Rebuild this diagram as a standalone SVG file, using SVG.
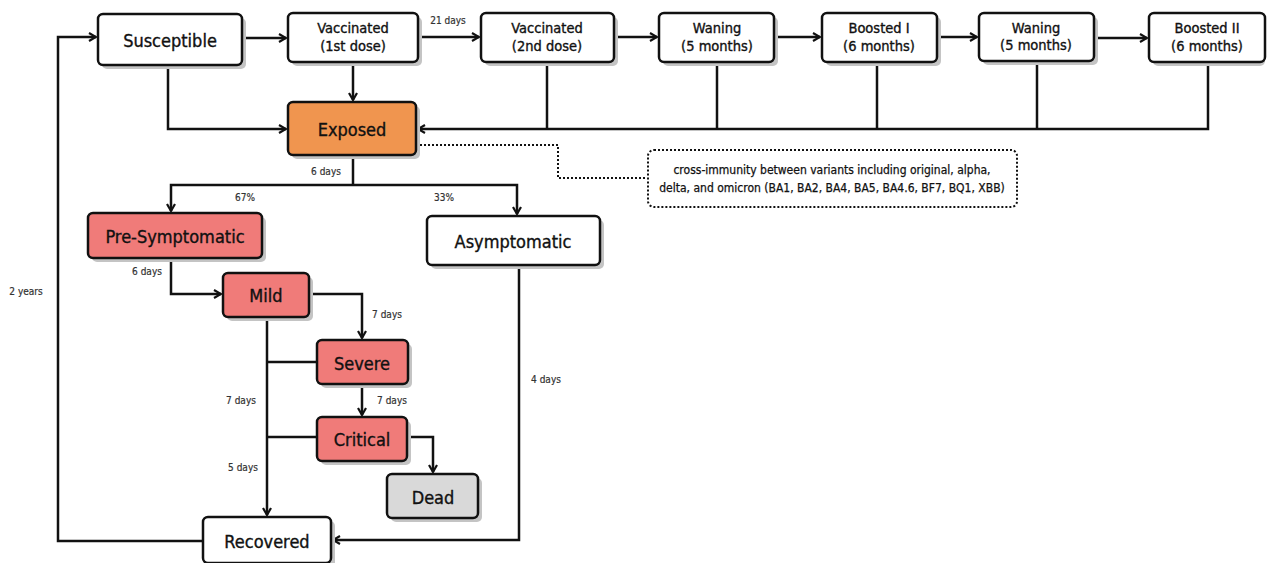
<svg xmlns="http://www.w3.org/2000/svg" width="1269" height="563" viewBox="0 0 1269 563">
<style>
  .box{stroke:#111;stroke-width:2.5;}
  .sh{fill:#c4c4c4;}
  .w{fill:#fff;}
  .o{fill:#F0954F;}
  .r{fill:#F07B79;}
  .g{fill:#D9D9D9;}
  text{font-family:"DejaVu Sans Condensed","DejaVu Sans",sans-serif;font-stretch:condensed;fill:#111;text-anchor:middle;dominant-baseline:central;stroke:#111;stroke-width:0.35;}
  .big{font-size:18px;}
  .mid{font-size:14.5px;}
  .sm{font-size:10px;fill:#333;stroke:#333;stroke-width:0.2;}
  .note{font-size:12px;stroke-width:0.25;}
  .c{fill:none;stroke:#111;stroke-width:2.5;}
  .a{marker-end:url(#arr);}
  .d{fill:none;stroke:#111;stroke-width:2;stroke-dasharray:2 2;}
</style>
<defs>
  <marker id="arr" markerWidth="10" markerHeight="10" refX="8" refY="5" orient="auto" markerUnits="userSpaceOnUse">
    <path d="M1,1 L8,5 L1,9" fill="none" stroke="#111" stroke-width="2.2"/>
  </marker>
</defs>

<g id="connectors">
  <path class="c a" d="M242,38 H286"/>
  <path class="c a" d="M418,37 H479"/>
  <path class="c a" d="M614,37 H657"/>
  <path class="c a" d="M774,37 H820"/>
  <path class="c a" d="M937,37 H977"/>
  <path class="c a" d="M1094,38 H1147"/>
  <text class="sm" x="448" y="20">21 days</text>
  <path class="c a" d="M168,65 V129 H286"/>
  <path class="c a" d="M353,62 V100"/>
  <path class="c" d="M547,62 V129"/>
  <path class="c" d="M717,62 V129"/>
  <path class="c" d="M877,62 V129"/>
  <path class="c" d="M1037,62 V129"/>
  <path class="c a" d="M1208,62 V129 H418"/>
  <path class="d" d="M416,145 H558 V178 H647"/>
  <path class="c" d="M353,155 V185"/>
  <path class="c a" d="M353,185 H171 V211"/>
  <path class="c a" d="M353,185 H517 V214"/>
  <text class="sm" x="326" y="171">6 days</text>
  <text class="sm" x="245" y="197">67%</text>
  <text class="sm" x="444" y="197">33%</text>
  <path class="c a" d="M171,258 V294 H221"/>
  <text class="sm" x="147" y="271">6 days</text>
  <path class="c a" d="M309,294 H362 V338"/>
  <text class="sm" x="387" y="314">7 days</text>
  <path class="c a" d="M362,384 V415"/>
  <text class="sm" x="392" y="400">7 days</text>
  <path class="c a" d="M408,437 H433 V472"/>
  <path class="c a" d="M267,317 V515"/>
  <path class="c" d="M267,362 H317"/>
  <path class="c" d="M267,437 H317"/>
  <text class="sm" x="241" y="400">7 days</text>
  <text class="sm" x="243" y="467">5 days</text>
  <path class="c a" d="M519,265 V540 H333"/>
  <text class="sm" x="546" y="379">4 days</text>
  <path class="c a" d="M203,541 H58 V37 H96"/>
  <text class="sm" x="26" y="291">2 years</text>
</g>

<g id="susceptible">
  <rect class="sh" x="102" y="18" width="144" height="51" rx="5"/>
  <rect class="box w" x="98" y="14" width="144" height="51" rx="5"/>
  <text class="big" x="170" y="40">Susceptible</text>
</g>
<g id="vaccinated1">
  <rect class="sh" x="292" y="17" width="130" height="49" rx="5"/>
  <rect class="box w" x="288" y="13" width="130" height="49" rx="5"/>
  <text class="mid" x="353" y="28">Vaccinated</text>
  <text class="mid" x="353" y="46">(1st dose)</text>
</g>
<g id="vaccinated2">
  <rect class="sh" x="485" y="17" width="133" height="49" rx="5"/>
  <rect class="box w" x="481" y="13" width="133" height="49" rx="5"/>
  <text class="mid" x="547" y="28">Vaccinated</text>
  <text class="mid" x="547" y="46">(2nd dose)</text>
</g>
<g id="waning1">
  <rect class="sh" x="663" y="17" width="115" height="49" rx="5"/>
  <rect class="box w" x="659" y="13" width="115" height="49" rx="5"/>
  <text class="mid" x="717" y="28">Waning</text>
  <text class="mid" x="717" y="46">(5 months)</text>
</g>
<g id="boosted1">
  <rect class="sh" x="826" y="17" width="115" height="49" rx="5"/>
  <rect class="box w" x="822" y="13" width="115" height="49" rx="5"/>
  <text class="mid" x="879" y="28">Boosted I</text>
  <text class="mid" x="879" y="46">(6 months)</text>
</g>
<g id="waning2">
  <rect class="sh" x="983" y="17" width="115" height="48" rx="5"/>
  <rect class="box w" x="979" y="13" width="115" height="48" rx="5"/>
  <text class="mid" x="1036" y="28">Waning</text>
  <text class="mid" x="1036" y="45">(5 months)</text>
</g>
<g id="boosted2">
  <rect class="sh" x="1153" y="17" width="112" height="49" rx="5"/>
  <rect class="box w" x="1149" y="13" width="116" height="49" rx="5"/>
  <text class="mid" x="1207" y="28">Boosted II</text>
  <text class="mid" x="1207" y="46">(6 months)</text>
</g>
<g id="exposed">
  <rect class="sh" x="292" y="106" width="128" height="53" rx="5"/>
  <rect class="box o" x="288" y="102" width="128" height="53" rx="5"/>
  <text class="big" x="352" y="129">Exposed</text>
</g>
<g id="note">
  <rect class="d" x="648" y="150" width="369" height="57" rx="6"/>
  <text class="note" x="832" y="170">cross-immunity between variants including original, alpha,</text>
  <text class="note" x="832" y="188">delta, and omicron (BA1, BA2, BA4, BA5, BA4.6, BF7, BQ1, XBB)</text>
</g>
<g id="presymptomatic">
  <rect class="sh" x="92" y="217" width="174" height="45" rx="5"/>
  <rect class="box r" x="88" y="213" width="174" height="45" rx="5"/>
  <text class="big" x="175" y="236">Pre-Symptomatic</text>
</g>
<g id="asymptomatic">
  <rect class="sh" x="431" y="220" width="173" height="49" rx="5"/>
  <rect class="box w" x="427" y="216" width="173" height="49" rx="5"/>
  <text class="big" x="513" y="241">Asymptomatic</text>
</g>
<g id="mild">
  <rect class="sh" x="227" y="277" width="86" height="44" rx="5"/>
  <rect class="box r" x="223" y="273" width="86" height="44" rx="5"/>
  <text class="big" x="266" y="295">Mild</text>
</g>
<g id="severe">
  <rect class="sh" x="321" y="344" width="91" height="44" rx="5"/>
  <rect class="box r" x="317" y="340" width="91" height="44" rx="5"/>
  <text class="big" x="362" y="363">Severe</text>
</g>
<g id="critical">
  <rect class="sh" x="321" y="421" width="90" height="44" rx="5"/>
  <rect class="box r" x="317" y="417" width="90" height="44" rx="5"/>
  <text class="big" x="362" y="439">Critical</text>
</g>
<g id="dead">
  <rect class="sh" x="391" y="478" width="91" height="44" rx="5"/>
  <rect class="box g" x="387" y="474" width="91" height="44" rx="5"/>
  <text class="big" x="433" y="497">Dead</text>
</g>
<g id="recovered">
  <rect class="sh" x="207" y="521" width="128" height="46" rx="5"/>
  <rect class="box w" x="203" y="517" width="128" height="46" rx="5"/>
  <text class="big" x="267" y="541">Recovered</text>
</g>
</svg>
